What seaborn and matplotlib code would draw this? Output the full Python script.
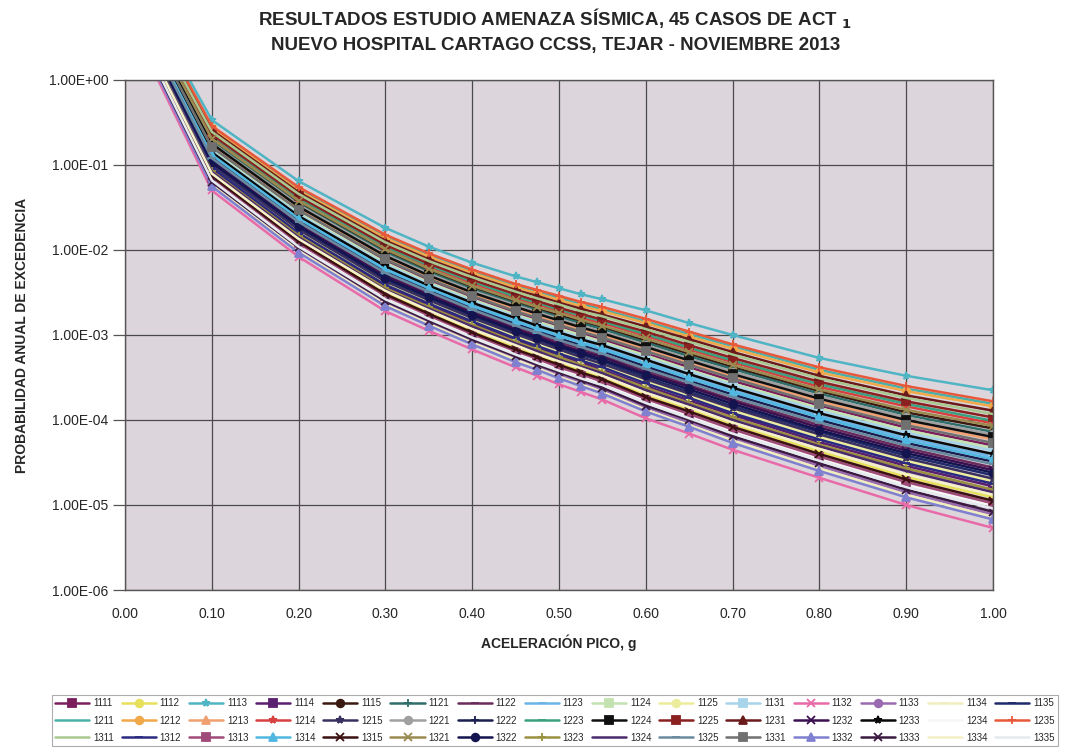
import numpy as np
import pandas as pd
import matplotlib
matplotlib.use("Agg")
import matplotlib.pyplot as plt
import seaborn as sns
from matplotlib.ticker import FixedLocator, FuncFormatter

# peak ground acceleration (g) where the hazard curves are sampled
pga = [0.02, 0.10, 0.20, 0.30, 0.35, 0.40, 0.45, 0.475, 0.50, 0.525, 0.55, 0.60, 0.65, 0.70, 0.80, 0.90, 1.00]

# log10 of annual exceedance probability, one list per case
log_p = {
    "1113": [1.00, -0.47, -1.19, -1.74, -1.96, -2.15, -2.31, -2.38, -2.45, -2.52, -2.58, -2.71, -2.86, -3.00, -3.27, -3.48, -3.65],
    "1235": [0.95, -0.54, -1.26, -1.82, -2.04, -2.23, -2.40, -2.47, -2.54, -2.61, -2.67, -2.81, -2.96, -3.11, -3.38, -3.60, -3.78],
    "1211": [0.94, -0.55, -1.28, -1.84, -2.06, -2.25, -2.42, -2.49, -2.56, -2.63, -2.70, -2.84, -2.99, -3.13, -3.41, -3.63, -3.81],
    "1212": [0.93, -0.57, -1.30, -1.86, -2.08, -2.27, -2.44, -2.51, -2.59, -2.66, -2.72, -2.86, -3.02, -3.16, -3.44, -3.66, -3.84],
    "1231": [0.91, -0.59, -1.32, -1.89, -2.11, -2.30, -2.47, -2.54, -2.62, -2.69, -2.76, -2.90, -3.05, -3.20, -3.48, -3.71, -3.89],
    "1311": [0.89, -0.61, -1.34, -1.91, -2.13, -2.32, -2.49, -2.57, -2.64, -2.72, -2.78, -2.93, -3.08, -3.23, -3.51, -3.74, -3.93],
    "1225": [0.88, -0.64, -1.37, -1.94, -2.16, -2.35, -2.52, -2.60, -2.68, -2.75, -2.82, -2.96, -3.12, -3.27, -3.55, -3.78, -3.97],
    "1223": [0.86, -0.65, -1.39, -1.96, -2.18, -2.37, -2.55, -2.62, -2.70, -2.77, -2.84, -2.99, -3.15, -3.30, -3.58, -3.81, -4.01],
    "1214": [0.85, -0.67, -1.40, -1.98, -2.20, -2.39, -2.57, -2.64, -2.72, -2.80, -2.86, -3.01, -3.17, -3.32, -3.61, -3.84, -4.04],
    "1321": [0.84, -0.69, -1.42, -1.99, -2.22, -2.42, -2.59, -2.67, -2.74, -2.82, -2.89, -3.04, -3.20, -3.35, -3.64, -3.88, -4.07],
    "1115": [0.83, -0.70, -1.44, -2.01, -2.24, -2.44, -2.61, -2.69, -2.77, -2.84, -2.91, -3.07, -3.22, -3.38, -3.66, -3.91, -4.10],
    "1121": [0.81, -0.72, -1.46, -2.03, -2.26, -2.46, -2.63, -2.71, -2.79, -2.86, -2.93, -3.09, -3.25, -3.40, -3.69, -3.94, -4.14],
    "1221": [0.80, -0.74, -1.47, -2.05, -2.28, -2.48, -2.65, -2.73, -2.81, -2.89, -2.96, -3.12, -3.28, -3.43, -3.72, -3.97, -4.17],
    "1224": [0.79, -0.75, -1.49, -2.07, -2.30, -2.50, -2.67, -2.75, -2.83, -2.91, -2.98, -3.14, -3.30, -3.46, -3.75, -4.00, -4.20],
    "1213": [0.78, -0.77, -1.51, -2.09, -2.32, -2.52, -2.70, -2.78, -2.86, -2.93, -3.00, -3.17, -3.33, -3.49, -3.78, -4.03, -4.23],
    "1331": [0.76, -0.79, -1.53, -2.11, -2.34, -2.54, -2.72, -2.80, -2.88, -2.96, -3.03, -3.19, -3.35, -3.51, -3.81, -4.06, -4.27],
    "1111": [0.75, -0.80, -1.55, -2.13, -2.36, -2.56, -2.74, -2.82, -2.90, -2.98, -3.05, -3.22, -3.38, -3.54, -3.83, -4.09, -4.30],
    "1124": [0.74, -0.82, -1.56, -2.15, -2.38, -2.58, -2.76, -2.84, -2.92, -3.00, -3.08, -3.24, -3.41, -3.57, -3.86, -4.12, -4.33],
    "1131": [0.73, -0.84, -1.58, -2.17, -2.40, -2.60, -2.78, -2.86, -2.95, -3.03, -3.10, -3.27, -3.43, -3.59, -3.89, -4.15, -4.36],
    "1233": [0.71, -0.85, -1.60, -2.19, -2.42, -2.62, -2.80, -2.89, -2.97, -3.05, -3.12, -3.29, -3.46, -3.62, -3.92, -4.18, -4.40],
    "1123": [0.70, -0.87, -1.62, -2.21, -2.44, -2.64, -2.82, -2.91, -2.99, -3.07, -3.15, -3.32, -3.48, -3.65, -3.95, -4.21, -4.43],
    "1314": [0.69, -0.88, -1.63, -2.23, -2.45, -2.66, -2.84, -2.93, -3.01, -3.09, -3.17, -3.34, -3.51, -3.67, -3.97, -4.24, -4.46],
    "1222": [0.68, -0.90, -1.65, -2.25, -2.47, -2.68, -2.87, -2.95, -3.04, -3.12, -3.19, -3.37, -3.54, -3.70, -4.00, -4.27, -4.49],
    "1325": [0.67, -0.92, -1.67, -2.27, -2.49, -2.70, -2.89, -2.97, -3.06, -3.14, -3.22, -3.40, -3.56, -3.73, -4.03, -4.30, -4.52],
    "1122": [0.65, -0.93, -1.69, -2.29, -2.51, -2.72, -2.91, -3.00, -3.08, -3.16, -3.24, -3.42, -3.59, -3.76, -4.06, -4.33, -4.56],
    "1232": [0.64, -0.95, -1.71, -2.31, -2.53, -2.74, -2.93, -3.02, -3.11, -3.19, -3.26, -3.45, -3.61, -3.78, -4.09, -4.36, -4.59],
    "1322": [0.63, -0.97, -1.72, -2.33, -2.55, -2.76, -2.95, -3.04, -3.13, -3.21, -3.29, -3.47, -3.64, -3.81, -4.12, -4.39, -4.62],
    "1135": [0.62, -0.98, -1.74, -2.35, -2.57, -2.78, -2.97, -3.06, -3.15, -3.23, -3.31, -3.50, -3.67, -3.84, -4.14, -4.42, -4.65],
    "1215": [0.60, -1.00, -1.76, -2.37, -2.59, -2.80, -2.99, -3.08, -3.17, -3.26, -3.34, -3.52, -3.69, -3.86, -4.17, -4.45, -4.69],
    "1125": [0.59, -1.02, -1.78, -2.39, -2.61, -2.82, -3.02, -3.11, -3.20, -3.28, -3.36, -3.55, -3.72, -3.89, -4.20, -4.48, -4.72],
    "1312": [0.58, -1.03, -1.80, -2.41, -2.63, -2.84, -3.04, -3.13, -3.22, -3.30, -3.38, -3.57, -3.74, -3.92, -4.23, -4.51, -4.75],
    "1114": [0.57, -1.05, -1.81, -2.43, -2.65, -2.86, -3.06, -3.15, -3.24, -3.32, -3.41, -3.60, -3.77, -3.94, -4.26, -4.54, -4.78],
    "1323": [0.55, -1.07, -1.83, -2.45, -2.67, -2.88, -3.08, -3.17, -3.26, -3.35, -3.43, -3.62, -3.80, -3.97, -4.29, -4.57, -4.82],
    "1324": [0.54, -1.08, -1.85, -2.47, -2.69, -2.90, -3.10, -3.19, -3.29, -3.37, -3.45, -3.65, -3.82, -4.00, -4.31, -4.60, -4.85],
    "1334": [0.53, -1.10, -1.87, -2.48, -2.71, -2.93, -3.12, -3.22, -3.31, -3.39, -3.48, -3.68, -3.85, -4.03, -4.34, -4.64, -4.88],
    "1112": [0.52, -1.12, -1.88, -2.50, -2.73, -2.95, -3.14, -3.24, -3.33, -3.42, -3.50, -3.70, -3.87, -4.05, -4.37, -4.67, -4.91],
    "1315": [0.50, -1.13, -1.90, -2.52, -2.75, -2.97, -3.17, -3.26, -3.35, -3.44, -3.52, -3.73, -3.90, -4.08, -4.40, -4.70, -4.95],
    "1313": [0.49, -1.15, -1.92, -2.54, -2.77, -2.99, -3.19, -3.28, -3.38, -3.46, -3.55, -3.75, -3.93, -4.11, -4.43, -4.73, -4.98],
    "1234": [0.48, -1.17, -1.94, -2.56, -2.79, -3.01, -3.21, -3.30, -3.40, -3.49, -3.57, -3.78, -3.95, -4.13, -4.45, -4.76, -5.01],
    "1335": [0.47, -1.18, -1.96, -2.58, -2.81, -3.03, -3.23, -3.33, -3.42, -3.51, -3.59, -3.80, -3.98, -4.16, -4.48, -4.79, -5.04],
    "1333": [0.45, -1.20, -1.97, -2.60, -2.83, -3.05, -3.25, -3.35, -3.44, -3.53, -3.62, -3.83, -4.00, -4.19, -4.51, -4.82, -5.08],
    "1133": [0.44, -1.22, -1.99, -2.62, -2.85, -3.07, -3.27, -3.37, -3.47, -3.55, -3.64, -3.85, -4.03, -4.21, -4.54, -4.85, -5.11],
    "1134": [0.43, -1.23, -2.01, -2.64, -2.87, -3.09, -3.29, -3.39, -3.49, -3.58, -3.67, -3.88, -4.06, -4.24, -4.57, -4.88, -5.14],
    "1332": [0.42, -1.25, -2.03, -2.66, -2.89, -3.11, -3.32, -3.41, -3.51, -3.60, -3.69, -3.90, -4.08, -4.27, -4.60, -4.91, -5.17],
    "1132": [0.38, -1.30, -2.08, -2.72, -2.95, -3.17, -3.38, -3.48, -3.58, -3.67, -3.76, -3.98, -4.16, -4.35, -4.68, -5.00, -5.27],
}

# legend order, read row by row (15 per row)
cases = ["1111", "1112", "1113", "1114", "1115", "1121", "1122", "1123", "1124", "1125",
         "1131", "1132", "1133", "1134", "1135",
         "1211", "1212", "1213", "1214", "1215", "1221", "1222", "1223", "1224", "1225",
         "1231", "1232", "1233", "1234", "1235",
         "1311", "1312", "1313", "1314", "1315", "1321", "1322", "1323", "1324", "1325",
         "1331", "1332", "1333", "1334", "1335"]

colors = {
    "1111": "#7a1e5c", "1112": "#e6e05a", "1113": "#4fb4c4", "1114": "#5a1f6e", "1115": "#3a1a10",
    "1121": "#2e6e6a", "1122": "#6a2a5a", "1123": "#6ab4e6", "1124": "#c4e2b0", "1125": "#ecec9c",
    "1131": "#a8d4ea", "1132": "#e86aa8", "1133": "#9a6ab0", "1134": "#f0eebe", "1135": "#1e2a6a",
    "1211": "#4ab0a8", "1212": "#f0a848", "1213": "#f0a070", "1214": "#d84040", "1215": "#3a3060",
    "1221": "#a0a0a0", "1222": "#1a1e50", "1223": "#3aa080", "1224": "#101010", "1225": "#8a2020",
    "1231": "#6a1a1a", "1232": "#3a1050", "1233": "#080808", "1234": "#f6f6f6", "1235": "#e8583a",
    "1311": "#a8c890", "1312": "#2a2a80", "1313": "#a04a7a", "1314": "#50b8e0", "1315": "#3a1010",
    "1321": "#9a8a50", "1322": "#141450", "1323": "#9a9040", "1324": "#4a2a6a", "1325": "#6a8aa0",
    "1331": "#707070", "1332": "#8080d0", "1333": "#3a1a40", "1334": "#f4f0c8", "1335": "#e4eaee",
}

markers = {
    "1111": "s", "1112": "o", "1113": "*", "1114": "s", "1115": "o",
    "1121": "+", "1122": "_", "1123": "_", "1124": "s", "1125": "o",
    "1131": "s", "1132": "x", "1133": "o", "1134": "_", "1135": "_",
    "1211": "None", "1212": "o", "1213": "^", "1214": "*", "1215": "*",
    "1221": "o", "1222": "+", "1223": "_", "1224": "s", "1225": "s",
    "1231": "^", "1232": "x", "1233": "*", "1234": "None", "1235": "+",
    "1311": "None", "1312": "_", "1313": "s", "1314": "^", "1315": "x",
    "1321": "x", "1322": "o", "1323": "+", "1324": "None", "1325": "_",
    "1331": "s", "1332": "^", "1333": "x", "1334": "None", "1335": "None",
}

df = pd.DataFrame([
    {"pga": g, "prob": 10.0 ** lp, "case": c}
    for c in cases for g, lp in zip(pga, log_p[c])
])

sns.set_theme(style="white")
plt.rcParams["font.family"] = ["Liberation Sans", "DejaVu Sans"]

fig = plt.figure(figsize=(10.68, 7.5), dpi=100)
ax = fig.add_axes([125 / 1068, 1 - 590 / 750, (993 - 125) / 1068, (590 - 80) / 750])
ax.set_facecolor("#ddd5dc")

sns.lineplot(
    data=df, x="pga", y="prob", hue="case", hue_order=cases, palette=colors,
    linewidth=1.8, legend=False, ax=ax, sort=False,
)
# seaborn refuses mixed filled/line markers, so set them on each line afterwards
lines = ax.get_lines()
for line, c in zip(lines, cases):
    line.set_marker(markers[c])
    line.set_markersize(5.5)
    line.set_markeredgewidth(1.3)
    line.set_markeredgecolor(colors[c])
    line.set_markerfacecolor(colors[c])

ax.set_yscale("log")
ax.set_ylim(1e-6, 1)
ax.set_xlim(0, 1)
ax.yaxis.set_major_locator(FixedLocator([10.0 ** -k for k in range(7)]))
ax.yaxis.set_minor_locator(FixedLocator([]))
ax.yaxis.set_major_formatter(FuncFormatter(lambda v, _: f"{v:.2E}"))
ax.set_xticks(np.arange(0, 1.01, 0.1))
ax.xaxis.set_major_formatter(FuncFormatter(lambda v, _: f"{v:.2f}"))
ax.grid(True, color="#4a4a4a", linewidth=0.9)
for s in ax.spines.values():
    s.set_color("#555555")
    s.set_linewidth(1.0)
ax.tick_params(axis="y", length=9, width=0.9, color="#555555", labelsize=10, pad=3, left=True)
ax.tick_params(axis="x", length=0, labelsize=10, pad=12)

ax.set_xlabel("ACELERACIÓN PICO, g", fontsize=10, fontweight="bold", labelpad=10)
ax.set_ylabel("PROBABILIDAD ANUAL DE EXCEDENCIA", fontsize=10, fontweight="bold", labelpad=14)

fig.text(0.52, 0.975, r"RESULTADOS ESTUDIO AMENAZA SÍSMICA, 45 CASOS DE ACT $_{\mathbf{1}}$",
         ha="center", va="center", fontsize=13.5, fontweight="bold")
fig.text(0.52, 0.939, "NUEVO HOSPITAL CARTAGO CCSS, TEJAR - NOVIEMBRE 2013",
         ha="center", va="center", fontsize=13.5, fontweight="bold")

# matplotlib fills legend columns first; reorder so entries read row by row
order = [r * 15 + j for j in range(15) for r in range(3)]
leg = fig.legend([lines[i] for i in order], [cases[i] for i in order],
                 ncol=15, loc="upper left",
                 bbox_to_anchor=(47 / 1068, 1 - 690 / 750),
                 fontsize=7, handlelength=3.5, handletextpad=0.4,
                 columnspacing=0.8, labelspacing=0.75, borderpad=0.35,
                 frameon=True, fancybox=False, edgecolor="#999999")
leg.get_frame().set_linewidth(0.8)

fig.savefig("out.png", dpi=100, facecolor="white")
